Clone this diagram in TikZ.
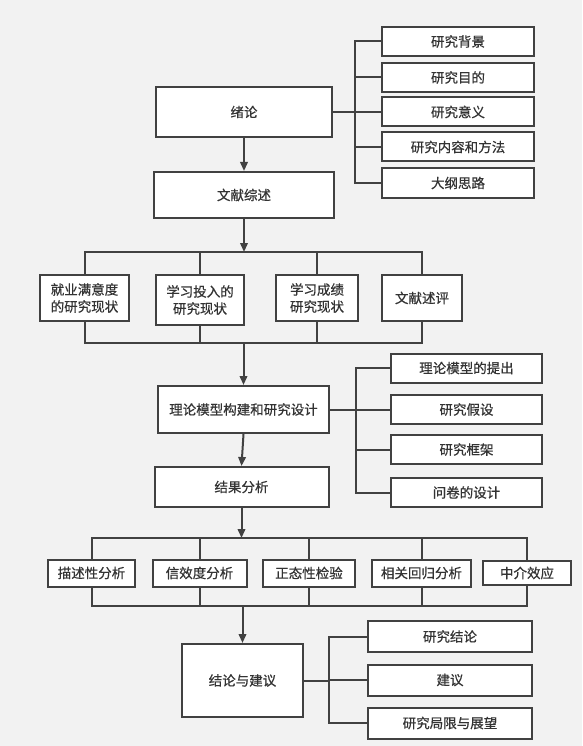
\documentclass[tikz,border=0pt]{standalone}
\usepackage{fontspec}
\setmainfont{Noto Sans CJK SC}[FakeBold=0.6]
\usetikzlibrary{arrows.meta, positioning}
\definecolor{bgc}{HTML}{F2F2F2}
\definecolor{linec}{HTML}{414141}
\definecolor{textc}{HTML}{333333}
\tikzset{
  box/.style={draw=linec, fill=white, line width=2pt, inner sep=0pt,
    text=textc, align=center, font=\fontsize{13.5}{17}\selectfont},
  link/.style={draw=linec, line width=2pt},
  arr/.style={link, -{Triangle[length=9pt,width=7.5pt]}}
}

\begin{document}
\begin{tikzpicture}[x=1pt,y=-1pt]
      \fill[bgc] (0,0) rectangle (582,746);
      \useasboundingbox (0,0) rectangle (582,746);
      % main column
      \node[box, minimum width=176, minimum height=50] (intro) at (244,112) {绪论};
      \node[box, minimum width=180, minimum height=46] (review) at (244,195) {文献综述};
      \node[box, minimum width=171, minimum height=47] (model) at (243.5,409.5) {理论模型构建和研究设计};
      \node[box, minimum width=174, minimum height=40] (result) at (241.5,487) {结果分析};
      \node[box, minimum width=121, minimum height=73] (concl) at (242.5,680.5) {结论与建议};
      % branches of intro
      \node[box, minimum width=152, minimum height=29] (bg) at (458,41.5) {研究背景};
      \node[box, minimum width=152, minimum height=29] (aim) at (458,77.5) {研究目的};
      \node[box, minimum width=152, minimum height=29] (sig) at (458,112) {研究意义};
      \node[box, minimum width=152, minimum height=29] (cont) at (458,147) {研究内容和方法};
      \node[box, minimum width=152, minimum height=29] (outl) at (458,183) {大纲思路};
      % review row
      \node[box, minimum width=89, minimum height=46] (s1) at (84.5,298) {就业满意度\\的研究现状};
      \node[box, minimum width=88, minimum height=50] (s2) at (200,300) {学习投入的\\研究现状};
      \node[box, minimum width=82, minimum height=46] (s3) at (317,298) {学习成绩\\研究现状};
      \node[box, minimum width=80, minimum height=46] (s4) at (422,298) {文献述评};
      % branches of model
      \node[box, minimum width=151, minimum height=29] (m1) at (466.5,368) {理论模型的提出};
      \node[box, minimum width=151, minimum height=29] (m2) at (466.5,409.5) {研究假设};
      \node[box, minimum width=151, minimum height=29] (m3) at (466.5,449.5) {研究框架};
      \node[box, minimum width=151, minimum height=29] (m4) at (466.5,492.5) {问卷的设计};
      % analysis row
      \node[box, minimum width=87, minimum height=27] (a1) at (91.5,573) {描述性分析};
      \node[box, minimum width=94, minimum height=27] (a2) at (199.5,573) {信效度分析};
      \node[box, minimum width=92, minimum height=27] (a3) at (309,573) {正态性检验};
      \node[box, minimum width=99, minimum height=27] (a4) at (421.5,573) {相关回归分析};
      \node[box, minimum width=88, minimum height=24] (a5) at (527,573) {中介效应};
      % branches of conclusion
      \node[box, minimum width=164, minimum height=31] (c1) at (450,636.5) {研究结论};
      \node[box, minimum width=164, minimum height=31] (c2) at (450,680) {建议};
      \node[box, minimum width=164, minimum height=31] (c3) at (450,723) {研究局限与展望};

      % edit here for the bracket and bus positions
      \coordinate (brA) at (355,0);
      \coordinate (brB) at (356,0);
      \coordinate (brC) at (329,0);
      \coordinate (busA) at (0,252);
      \coordinate (busB) at (0,343);
      \coordinate (busC) at (0,538);
      \coordinate (busD) at (0,606);

      % intro
      \draw[arr] (intro.south) -- (review.north);
      \draw[link] (intro.east) -- (intro.east -| brA);
      \draw[link] (bg.west) -- (brA |- bg.west) -- (brA |- outl.west) -- (outl.west);
      \foreach \n in {aim,sig,cont}
      \draw[link] (brA |- \n.west) -- (\n.west);

      % review row
      \draw[arr] (review.south) -- (review.south |- busA);
      \draw[link] (s1.north) -- (s1.north |- busA) -- (s4.north |- busA) -- (s4.north);
      \draw[link] (s1.south) -- (s1.south |- busB) -- (s4.south |- busB) -- (s4.south);
      \foreach \n in {s2,s3}
      {
      \draw[link] (\n.north |- busA) -- (\n.north);
      \draw[link] (\n.south) -- (\n.south |- busB);
      }
      \draw[arr] (model.north |- busB) -- (model.north);

      % model
      \draw[link] (model.east) -- (model.east -| brB);
      \draw[link] (m1.west) -- (brB |- m1.west) -- (brB |- m4.west) -- (m4.west);
      \foreach \n in {m2,m3}
      \draw[link] (brB |- \n.west) -- (\n.west);
      \draw[arr] (model.south) -- (result.north);

      % analysis row
      \draw[arr] (result.south) -- (result.south |- busC);
      \draw[link] (a1.north) -- (a1.north |- busC) -- (a5.north |- busC) -- (a5.north);
      \draw[link] (a1.south) -- (a1.south |- busD) -- (a5.south |- busD) -- (a5.south);
      \foreach \n in {a2,a3,a4}
      {
      \draw[link] (\n.north |- busC) -- (\n.north);
      \draw[link] (\n.south) -- (\n.south |- busD);
      }
      \draw[arr] (concl.north |- busD) -- (concl.north);

      % conclusion
      \draw[link] (concl.east) -- (concl.east -| brC);
      \draw[link] (c1.west) -- (brC |- c1.west) -- (brC |- c3.west) -- (c3.west);
      \draw[link] (brC |- c2.west) -- (c2.west);
    \end{tikzpicture}
\end{document}
